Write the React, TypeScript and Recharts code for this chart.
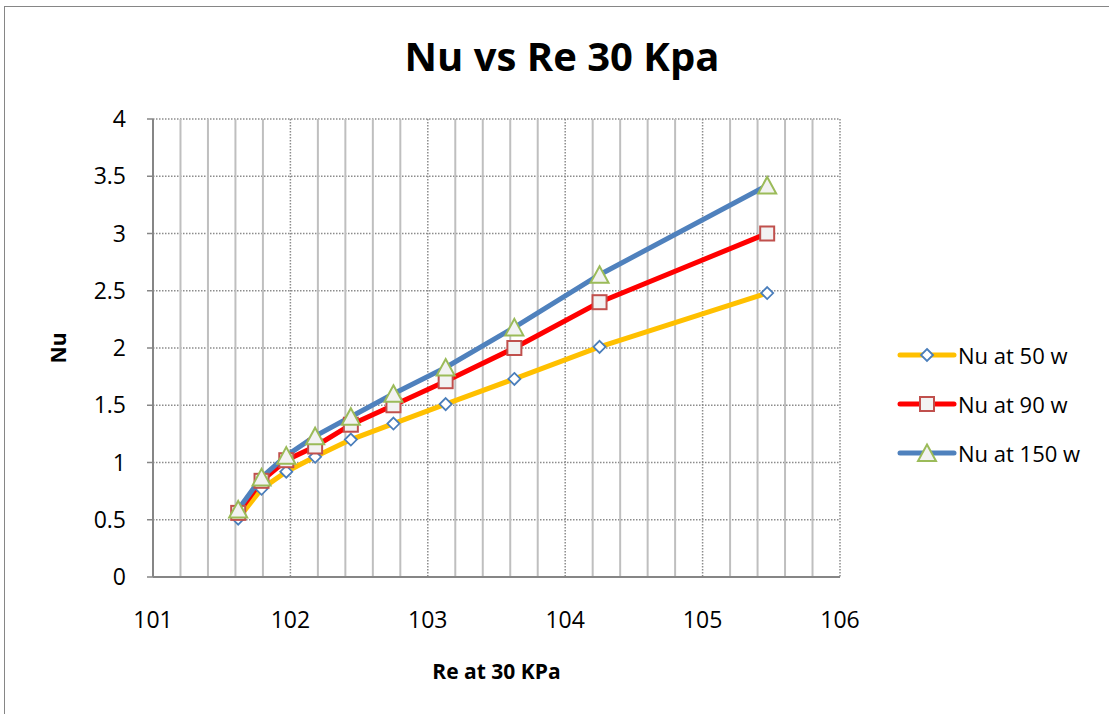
import React from 'react';
import { LineChart, Line, XAxis, YAxis, CartesianGrid, ReferenceLine, Legend } from 'recharts';

const reValues = [101.62, 101.79, 101.97, 102.18, 102.44, 102.75, 103.13, 103.63, 104.25, 105.47];
const nu50 = [0.51, 0.77, 0.92, 1.05, 1.2, 1.34, 1.51, 1.73, 2.01, 2.48];
const nu90 = [0.56, 0.84, 1.02, 1.14, 1.33, 1.5, 1.71, 2.0, 2.4, 3.0];
const nu150 = [0.59, 0.87, 1.06, 1.23, 1.4, 1.6, 1.83, 2.18, 2.64, 3.42];

const xTicks = [101, 102, 103, 104, 105, 106];
const yTicks = [0, 0.5, 1, 1.5, 2, 2.5, 3, 3.5, 4];
const minorXTicks = [
  101.2, 101.4, 101.6, 101.8,
  102.2, 102.4, 102.6, 102.8,
  103.2, 103.4, 103.6, 103.8,
  104.2, 104.4, 104.6, 104.8,
  105.2, 105.4, 105.6, 105.8,
];

const seriesNames = ['Nu at 50 w', 'Nu at 90 w', 'Nu at 150 w'];
const seriesKeys = ['nu50', 'nu90', 'nu150'];
const seriesColors = ['#FFC000', '#FF0000', '#4F81BD'];

const data = reValues.map((re, i) => ({ re, nu50: nu50[i], nu90: nu90[i], nu150: nu150[i] }));

const FONT = '"Open Sans", "DejaVu Sans", sans-serif';

function Marker({ kind, cx, cy }: { kind: string; cx: number; cy: number }) {
  if (kind === 'nu50') {
    const r = 6;
    return (
      <polygon
        points={`${cx},${cy - r} ${cx + r},${cy} ${cx},${cy + r} ${cx - r},${cy}`}
        fill="#FFFFFF"
        stroke="#4A7EBB"
        strokeWidth={1.8}
      />
    );
  }
  if (kind === 'nu90') {
    return <rect x={cx - 7} y={cy - 7} width={14} height={14} fill="#F2F2F2" stroke="#C0504D" strokeWidth={2} />;
  }
  return (
    <polygon
      points={`${cx},${cy - 8.5} ${cx + 9},${cy + 8} ${cx - 9},${cy + 8}`}
      fill="#F2F2F2"
      stroke="#9BBB59"
      strokeWidth={2}
    />
  );
}

const makeDot = (kind: string) => (props: any) => {
  const { cx, cy, index } = props;
  if (cx == null || cy == null) return <g key={`${kind}-${index}`} />;
  return (
    <g key={`${kind}-${index}`}>
      <Marker kind={kind} cx={cx} cy={cy} />
    </g>
  );
};

function LegendContent(props: any) {
  const payload = [...(props.payload || [])].sort(
    (a: any, b: any) => seriesKeys.indexOf(a.dataKey) - seriesKeys.indexOf(b.dataKey)
  );
  return (
    <div style={{ fontFamily: FONT }}>
      {payload.map((p: any) => (
        <div key={p.dataKey} style={{ display: 'flex', alignItems: 'center', height: 49 }}>
          <svg width={61} height={22} style={{ display: 'block' }}>
            <line x1={3} y1={11} x2={57} y2={11} stroke={p.color} strokeWidth={5} strokeLinecap="round" />
            <Marker kind={p.dataKey} cx={30} cy={11} />
          </svg>
          <span style={{ fontSize: 22, color: '#000', lineHeight: '22px', whiteSpace: 'nowrap' }}>{p.value}</span>
        </div>
      ))}
    </div>
  );
}

function YTitle(props: any) {
  const vb = props.viewBox || { x: 0, y: 0, width: 0, height: 0 };
  const cx = vb.x - 35;
  const cy = vb.y + vb.height / 2;
  return (
    <text
      x={cx}
      y={cy}
      transform={`rotate(-90 ${cx} ${cy})`}
      textAnchor="middle"
      dominantBaseline="central"
      fill="#000"
      fontSize={21}
      fontWeight={700}
      fontFamily={FONT}
    >
      Nu
    </text>
  );
}

export default function App() {
  return (
    <div
      style={{
        position: 'absolute',
        left: 0,
        top: 0,
        width: 1109,
        height: 714,
        overflow: 'hidden',
        background: '#FFFFFF',
        fontFamily: FONT,
      }}
    >
      <div
        style={{
          position: 'absolute',
          left: 4,
          top: 6,
          width: 1200,
          height: 800,
          border: '1.5px solid #868686',
          boxSizing: 'border-box',
        }}
      />
      <div
        style={{
          position: 'absolute',
          left: 362,
          top: 29,
          width: 400,
          textAlign: 'center',
          fontSize: 40,
          fontWeight: 700,
          lineHeight: '54px',
          color: '#000',
        }}
      >
        Nu vs Re 30 Kpa
      </div>
      <div style={{ position: 'absolute', left: 0, top: 0 }}>
        <LineChart width={1109} height={714} data={data} margin={{ top: 119, right: 269, bottom: 97, left: 93 }}>
          <CartesianGrid
            stroke="#8C8C8C"
            strokeWidth={1.5}
            strokeDasharray="1.5 1.5"
            horizontal={true}
            vertical={true}
          />
          {minorXTicks.map((v) => (
            <ReferenceLine key={v} x={v} stroke="#BFBFBF" strokeWidth={2} ifOverflow="hidden" />
          ))}
          <XAxis
            dataKey="re"
            type="number"
            domain={[101, 106]}
            ticks={xTicks}
            allowDataOverflow
            height={40}
            axisLine={{ stroke: '#868686', strokeWidth: 2 }}
            tickLine={false}
            tickSize={0}
            tickMargin={35}
            tick={{ fill: '#000', fontSize: 23, fontFamily: FONT }}
            label={{
              value: 'Re at 30 KPa',
              position: 'insideBottom',
              offset: -62,
              style: { fill: '#000', fontSize: 21, fontWeight: 700, fontFamily: FONT },
            }}
          />
          <YAxis
            type="number"
            domain={[0, 4]}
            ticks={yTicks}
            width={60}
            axisLine={{ stroke: '#868686', strokeWidth: 2 }}
            tickLine={{ stroke: '#868686', strokeWidth: 1.5 }}
            tickSize={6}
            tickMargin={21}
            tick={{ fill: '#000', fontSize: 23, fontFamily: FONT }}
            label={<YTitle />}
          />
          <Legend
            layout="vertical"
            align="center"
            verticalAlign="middle"
            content={<LegendContent />}
            wrapperStyle={{ left: 897, top: 330, width: 212, height: 150 }}
          />
          {seriesKeys.map((k, i) => (
            <Line
              key={k}
              type="linear"
              dataKey={k}
              name={seriesNames[i]}
              stroke={seriesColors[i]}
              strokeWidth={5}
              dot={makeDot(k)}
              activeDot={false}
              isAnimationActive={false}
              legendType="line"
            />
          ))}
        </LineChart>
      </div>
    </div>
  );
}
